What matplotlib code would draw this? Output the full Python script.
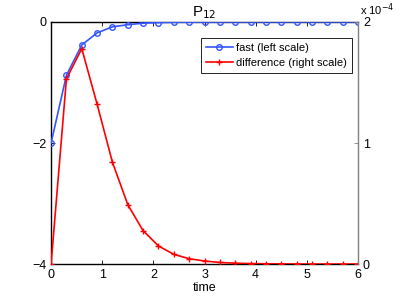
import numpy as np
from matplotlib import pyplot as plt

plt.rcParams['font.family'] = ['Liberation Sans', 'DejaVu Sans']
plt.rcParams['font.size'] = 9

time = [0.0, 0.3, 0.6, 0.9, 1.2, 1.5, 1.8, 2.1, 2.4, 2.7, 3.0,
        3.3, 3.6, 3.9, 4.2, 4.5, 4.8, 5.1, 5.4, 5.7, 6.0]
fast = [-2.0, -0.88, -0.38, -0.18, -0.08, -0.045, -0.02, -0.01, -0.005, -0.003, -0.002,
        -0.001, -0.0005, -0.0003, -0.0002, -0.0001, 0.0, 0.0, 0.0, 0.0, 0.0]
diff = [0.0, 1.53e-4, 1.78e-4, 1.32e-4, 0.84e-4, 0.49e-4, 0.275e-4, 0.149e-4, 0.08e-4, 0.044e-4,
        0.025e-4, 0.013e-4, 0.007e-4, 0.004e-4, 0.002e-4, 0.001e-4, 0.0005e-4, 0.0, 0.0, 0.0, 0.0]

blue = '#3355ff'
red = '#ff0000'

fig = plt.figure(figsize=(3.96, 2.97), dpi=100)
ax = fig.add_axes([0.129, 0.111, 0.775, 0.815])
ax2 = ax.twinx()

l1, = ax.plot(time, fast, '-o', color=blue, lw=1.2, ms=4, mfc='none', mew=1.0, label='fast (left scale)', zorder=3)
l2, = ax2.plot(time, diff, '-+', color=red, lw=1.2, ms=5, mew=1.0, label='difference (right scale)')

ax.set_xlim(0, 6)
ax.set_ylim(-4, 0)
ax.set_xticks(range(7))
ax.set_yticks([-4, -2, 0])
ax.set_yticklabels(['\u22124', '\u22122', '0'])
ax2.set_ylim(0, 2e-4)
ax2.set_yticks([0, 1e-4, 2e-4])
ax2.set_yticklabels(['0', '1', '2'])
ax2.text(1.005, 1.03, r'x 10$^{-4}$', transform=ax2.transAxes, ha='left', va='baseline', fontsize=8)

ax.tick_params(direction='in', length=3, top=True, width=0.6)
ax2.tick_params(direction='in', length=3, width=0.6, color='#808080')
for s in ['left', 'bottom', 'top']:
    ax.spines[s].set_linewidth(1.0)
ax.spines['right'].set_visible(False)
ax2.spines['right'].set_color('#808080')
ax2.spines['right'].set_linewidth(1.0)
for s in ['left', 'bottom', 'top']:
    ax2.spines[s].set_visible(False)

ax.set_xlabel('time', labelpad=1)
ax.set_title(r'P$_{12}$', pad=4)

leg = ax2.legend([l1, l2], ['fast (left scale)', 'difference (right scale)'],
                 loc='upper right', bbox_to_anchor=(0.98, 0.934), borderaxespad=0,
                 fancybox=False, edgecolor='black', framealpha=1, handlelength=2.4,
                 borderpad=0.45, labelspacing=0.45, handletextpad=0.3, fontsize=8)
leg.get_frame().set_linewidth(0.6)

fig.savefig('out.png', dpi=100)
